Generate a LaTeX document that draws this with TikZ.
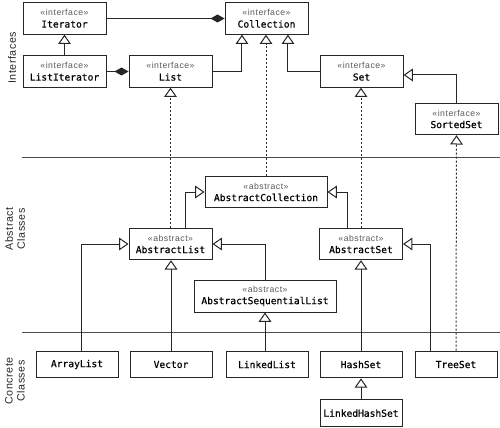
\documentclass[tikz,border=0pt]{standalone}
\usepackage{fontspec}
\usepackage{tikz}
\usetikzlibrary{positioning,arrows.meta,calc}
\newfontfamily\monofont[FakeBold=0.6]{DejaVu Sans Mono}
\newfontfamily\stereofont[LetterSpace=6]{Liberation Sans}
\newfontfamily\sidefont[LetterSpace=5]{Liberation Sans}
\newcommand{\umltype}[2]{{\stereofont\fontsize{6.5}{9}\selectfont\color{black!65}«#1»}\\{\monofont\fontsize{7.2}{9}\selectfont #2}}
\newcommand{\umlname}[1]{{\monofont\fontsize{7.2}{9}\selectfont #1}}

\begin{document}
\begin{tikzpicture}[x=0.75pt,y=0.75pt,yscale=-1,xscale=1,
        box/.style={draw=black!85,line width=0.75pt,align=center,inner sep=0.75pt,font=\fontsize{7.2}{9}\selectfont},
        ibox/.style={box,minimum width=62.25pt,minimum height=23.5pt},
        cbox/.style={box,minimum width=61.5pt,minimum height=20pt},
        inherit/.style={draw=black!85,line width=0.75pt,-{Triangle[open,length=7pt,width=9.5pt]}},
        realize/.style={inherit,dash pattern=on 1.5pt off 1.5pt},
        compose/.style={draw=black!85,line width=0.75pt,-{Diamond[length=10.5pt,width=6pt]}},
        divider/.style={draw=black!70,line width=0.75pt},
        side/.style={font=\sidefont\fontsize{8}{9}\selectfont,rotate=90,align=center,text=black!85}]
            \useasboundingbox (0,0) rectangle (500,428);
            % Text Node
            \node[side] (ifaces) at (12,58) {Interfaces};
            \node[side] (abstr) at (15,229) {Abstract\\Classes};
            \node[side] (concr) at (15,381) {Concrete\\Classes};
            %Straight Lines
            \draw[divider] (22,157) -- (500,157);
            \draw[divider] (22,332) -- (500,332);
            % Shape: Rectangle
            \node[ibox] (Iterator) at (64.5,18.5) {\umltype{interface}{Iterator}};
            \node[ibox] (Collection) at (266.5,18.5) {\umltype{interface}{Collection}};
            \node[ibox] (ListIterator) at (64.5,71.5) {\umltype{interface}{ListIterator}};
            \node[ibox] (List) at (170.5,71.5) {\umltype{interface}{List}};
            \node[ibox] (Set) at (361.5,71.5) {\umltype{interface}{Set}};
            \node[ibox] (SortedSet) at (456.5,119) {\umltype{interface}{SortedSet}};
            \node[ibox,minimum width=91.5pt] (AbstractCollection) at (266,192) {\umltype{abstract}{AbstractCollection}};
            \node[ibox] (AbstractList) at (170.5,244) {\umltype{abstract}{AbstractList}};
            \node[ibox] (AbstractSet) at (361,244) {\umltype{abstract}{AbstractSet}};
            \node[ibox,minimum width=106.5pt,minimum height=24pt] (AbstractSequentialList) at (265,296) {\umltype{abstract}{AbstractSequentialList}};
            \node[cbox] (ArrayList) at (77,364.5) {\umlname{ArrayList}};
            \node[cbox] (Vector) at (171,364.5) {\umlname{Vector}};
            \node[cbox] (LinkedList) at (267,364.5) {\umlname{LinkedList}};
            \node[cbox] (HashSet) at (361,364.5) {\umlname{HashSet}};
            \node[cbox] (TreeSet) at (456,364.5) {\umlname{TreeSet}};
            \node[cbox,below=15.75pt of HashSet] (LinkedHashSet) {\umlname{LinkedHashSet}};
            %Straight Lines: interfaces
            \draw[inherit] (ListIterator.north) -- (Iterator.south);
            \draw[compose] (Iterator.east) -- (Collection.west);
            \draw[compose] (ListIterator.east) -- (List.west);
            \draw[inherit] (List.east) -| ([xshift=-18.4pt]Collection.south);
            \draw[inherit] (Set.west) -| ([xshift=16.1pt]Collection.south);
            \draw[inherit] (SortedSet.north) |- ([yshift=2.6pt]Set.east);
            %Straight Lines: abstract classes
            \draw[realize] (AbstractList.north) -- (List.south);
            \draw[realize] (AbstractCollection.north) -- (AbstractCollection.north |- Collection.south);
            \draw[realize] (AbstractSet.north) -- (AbstractSet.north |- Set.south);
            \draw[inherit] ([xshift=11pt]AbstractList.north) |- (AbstractCollection.west);
            \draw[inherit] ([xshift=-10.5pt]AbstractSet.north) |- (AbstractCollection.east);
            \draw[inherit] (AbstractSequentialList.north) |- (AbstractList.east);
            %Straight Lines: concrete classes
            \draw[inherit] ([xshift=3pt]ArrayList.north) |- (AbstractList.west);
            \draw[inherit] (Vector.north) -- (Vector.north |- AbstractList.south);
            \draw[inherit] (LinkedList.north -| AbstractSequentialList.south) -- (AbstractSequentialList.south);
            \draw[inherit] (HashSet.north) -- (HashSet.north |- AbstractSet.south);
            \draw[inherit] ([xshift=-19.5pt]TreeSet.north) |- (AbstractSet.east);
            \draw[realize] (TreeSet.north) -- (SortedSet.south);
            \draw[inherit] (LinkedHashSet.north) -- (HashSet.south);
        \end{tikzpicture}
\end{document}
